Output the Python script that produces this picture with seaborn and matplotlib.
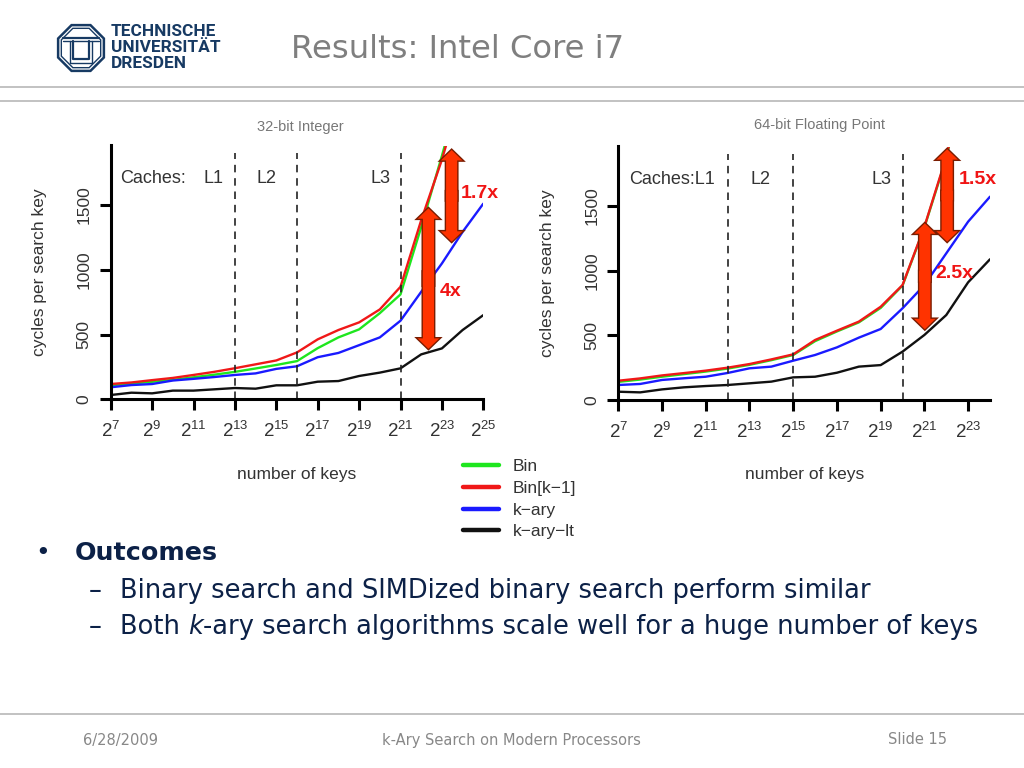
import matplotlib
matplotlib.use("Agg")
import matplotlib.pyplot as plt
from matplotlib.lines import Line2D
from matplotlib.patches import RegularPolygon
import pandas as pd
import seaborn as sns

# ---------------- data ----------------
algorithms = ["Bin", "Bin[k\u22121]", "k\u2212ary", "k\u2212ary\u2212lt"]
colors = ["#1ee61e", "#f01818", "#1a1aff", "#111111"]

exp_int = list(range(7, 26))          # log2(number of keys), 32-bit integer
bin_int = [108, 122, 135, 150, 170, 190, 212, 238, 265, 295, 395, 478, 540, 665, 810, 1330, 1880, 2450, 3000]
bink_int = [118, 130, 148, 165, 188, 212, 240, 270, 300, 362, 463, 535, 594, 694, 869, 1383, 1850, 2400, 2950]
kary_int = [93, 110, 118, 145, 158, 172, 188, 200, 235, 255, 325, 358, 418, 478, 607, 830, 1049, 1293, 1511]
karylt_int = [33, 51, 46, 67, 67, 77, 87, 82, 108, 108, 136, 141, 180, 206, 239, 347, 393, 535, 650]

exp_fp = list(range(7, 25))           # log2(number of keys), 64-bit floating point
bin_fp = [140, 158, 180, 200, 220, 243, 272, 308, 348, 455, 530, 600, 712, 885, 1335, 1870, 2600, 3300]
bink_fp = [149, 167, 190, 208, 227, 250, 278, 314, 353, 464, 536, 606, 721, 889, 1340, 1880, 2600, 3300]
kary_fp = [116, 124, 155, 168, 180, 209, 245, 258, 304, 348, 407, 482, 549, 709, 889, 1134, 1379, 1572]
karylt_fp = [64, 59, 82, 98, 108, 116, 129, 142, 175, 180, 211, 258, 270, 374, 503, 657, 910, 1088]

xticks_int = list(range(7, 26, 2))
xticks_fp = list(range(7, 24, 2))
yticks = [0, 500, 1000, 1500]

cache_int = [13, 16, 21]   # cache boundaries (log2 keys)
cache_fp = [12, 15, 20]

# speed-up arrows: (x, y_low, y_high, label, label_x, label_y)
arrows_int = [(22.35, 390, 1475, "4x", 23.43, 831), (23.47, 1217, 1925, "1.7x", 24.84, 1591)]
arrows_fp = [(21.02, 547, 1366, "2.5x", 22.35, 980), (22.04, 1224, 1939, "1.5x", 23.42, 1701)]


def long_df(x, series):
    rows = []
    for name, vals in zip(algorithms, series):
        for xi, v in zip(x, vals):
            rows.append({"exp": xi, "cycles": v, "algorithm": name})
    return pd.DataFrame(rows)


df_int = long_df(exp_int, [bin_int, bink_int, kary_int, karylt_int])
df_fp = long_df(exp_fp, [bin_fp, bink_fp, kary_fp, karylt_fp])

# ---------------- style ----------------
sns.set_style("white")
plt.rcParams["font.family"] = ["Liberation Sans", "DejaVu Sans"]
plt.rcParams["mathtext.default"] = "regular"

W, H = 1024, 768
fig = plt.figure(figsize=(W / 100, H / 100), dpi=100)
fig.patch.set_facecolor("white")


def fx(px):
    return px / W


def fy(py):
    return 1 - py / H


TXT = "#333333"
ARROW_FILL = "#ff3300"
ARROW_EDGE = "#7a1c00"


def double_arrow(ax, x, y0, y1):
    ym = (y0 + y1) / 2.0
    eps = (y1 - y0) * 0.05
    halves = [((x, ym - eps), (x, y1)), ((x, ym + eps), (x, y0))]
    style = "simple,head_length=7.5,head_width=15.5,tail_width=8"
    for fc, ec, lw, z in ((ARROW_EDGE, ARROW_EDGE, 2.0, 5), (ARROW_FILL, ARROW_FILL, 0.0, 6)):
        for start, end in halves:
            ax.annotate("", xy=end, xytext=start, zorder=z,
                        arrowprops=dict(arrowstyle=style, mutation_scale=1, fc=fc, ec=ec, lw=lw,
                                        shrinkA=0, shrinkB=0, joinstyle="miter"))


ax1 = fig.add_axes([fx(110.7), fy(399.3), 372.6 / W, 253.8 / H])
ax2 = fig.add_axes([fx(618.3), fy(400.0), 371.7 / W, 253.5 / H])

palette = dict(zip(algorithms, colors))

for ax, df, xmax, xt, caches, arrows, labels in (
    (ax1, df_int, 25, xticks_int, cache_int, arrows_int,
     [("Caches:", 7.45, "left"), ("L1", 11.99, "center"), ("L2", 14.52, "center"), ("L3", 20.03, "center")]),
    (ax2, df_fp, 24, xticks_fp, cache_fp, arrows_fp,
     [("Caches:L1", 7.5, "left"), ("L2", 13.49, "center"), ("L3", 19.03, "center")]),
):
    sns.lineplot(data=df, x="exp", y="cycles", hue="algorithm", hue_order=algorithms,
                 palette=palette, estimator=None, lw=1.7, ax=ax, legend=(ax is ax1))
    ax.set_facecolor("none")
    ax.set_xlim(7, xmax)
    ax.set_ylim(0, 1960)
    ax.set_xticks(xt)
    ax.set_xticklabels([f"$2^{{{e}}}$" for e in xt])
    ax.set_yticks(yticks)
    ax.set_yticklabels([str(v) for v in yticks])
    for s in ("top", "right"):
        ax.spines[s].set_visible(False)
    for s in ("left", "bottom"):
        ax.spines[s].set_linewidth(2.2)
        ax.spines[s].set_color("black")
    ax.tick_params(axis="both", length=7.7, width=2.2, color="black", labelcolor=TXT,
                   bottom=True, left=True)
    ax.tick_params(axis="x", labelsize=13.5, pad=8)
    ax.tick_params(axis="y", labelsize=12.5, labelrotation=90, pad=6)
    for lab in ax.get_yticklabels():
        lab.set_va("center")
    ax.set_xlabel("number of keys", fontsize=12.5, color=TXT)
    ax.set_ylabel("cycles per search key", fontsize=12.5, color=TXT)
    ax.xaxis.set_label_coords(0.5, -0.265)
    ax.yaxis.set_label_coords(-0.17, 0.5)

    for c in caches:
        ax.axvline(c, ymin=0, ymax=0.97, color="#222222", lw=1.2, ls=(0, (4.5, 3.5)))
    for text, x, ha in labels:
        ax.text(x, 1705, text, ha=ha, va="center", fontsize=13, color=TXT)

    for x, y0, y1, lab, lx, ly in arrows:
        double_arrow(ax, x, y0, y1)
        ax.text(lx, ly, lab, ha="center", va="center", fontsize=14, fontweight="bold",
                color="#f01414", zorder=7)

# legend between the two charts
sns.move_legend(ax1, "upper left", bbox_to_anchor=(fx(463), fy(459)),
                bbox_transform=fig.transFigure, frameon=False, title=None,
                fontsize=12.5, handlelength=2.1, handletextpad=0.75,
                labelspacing=0.38, borderpad=0, borderaxespad=0)
leg = ax1.get_legend()
for ln in leg.get_lines():
    ln.set_linewidth(3.2)
for t in leg.get_texts():
    t.set_color(TXT)

# chart titles
fig.text(fx(300.5), fy(127), "32-bit Integer", ha="center", va="center", fontsize=10.5, color="#777777")
fig.text(fx(819), fy(125), "64-bit Floating Point", ha="center", va="center", fontsize=10.5, color="#777777")

# ---------------- slide frame ----------------
NAVY = "#0c2147"
GRAY = "#888888"
SLIDE_FONT = ["DejaVu Sans"]

for yline in (87.3, 101.3, 714.0):
    fig.add_artist(Line2D([0, 1], [fy(yline), fy(yline)], transform=fig.transFigure,
                          color="#bdbdbd", lw=1.3))

fig.text(fx(291), fy(50), "Results: Intel Core i7", ha="left", va="center",
         fontsize=23.2, color="#7f7f7f", family=SLIDE_FONT)

# logo
LOGO = "#173a63"
logo = fig.add_axes([fx(55), fy(74), 52 / W, 52 / H])
logo.set_xlim(-1.05, 1.05)
logo.set_ylim(-1.05, 1.05)
logo.set_aspect("equal")
logo.axis("off")
logo.add_patch(RegularPolygon((0, 0), 8, radius=1.0, orientation=0.3927, fill=False, ec=LOGO, lw=1.8))
logo.add_patch(RegularPolygon((0, 0), 8, radius=0.86, orientation=0.3927, fill=False, ec=LOGO, lw=1.0))
logo.plot([-0.72, 0.72], [0.42, 0.42], color=LOGO, lw=1.6)
logo.plot([-0.72, 0.72], [0.28, 0.28], color=LOGO, lw=1.0)
logo.plot([-0.32, -0.32, 0.32, 0.32], [0.28, -0.45, -0.45, 0.28], color=LOGO, lw=1.6)
logo.plot([-0.46, -0.46, 0.46, 0.46], [0.28, -0.6, -0.6, 0.28], color=LOGO, lw=1.0)
for i, word in enumerate(["TECHNISCHE", "UNIVERSIT\u00c4T", "DRESDEN"]):
    fig.text(fx(111), fy(31 + 16.5 * i), word, ha="left", va="center", fontsize=12.4,
             fontweight="bold", color=LOGO, family=["Roboto", "DejaVu Sans"])

# bullets
BODY = 18.5
fig.text(fx(42.5), fy(553), "\u2022", ha="center", va="center", fontsize=18, color=NAVY, family=SLIDE_FONT)
fig.text(fx(75), fy(553), "Outcomes", ha="left", va="center", fontsize=18.3, fontweight="bold",
         color=NAVY, family=SLIDE_FONT)
fig.text(fx(89), fy(591), "\u2013", ha="left", va="center", fontsize=BODY, color=NAVY, family=SLIDE_FONT)
fig.text(fx(120), fy(591), "Binary search and SIMDized binary search perform similar", ha="left",
         va="center", fontsize=BODY, color=NAVY, family=SLIDE_FONT)
fig.text(fx(89), fy(627), "\u2013", ha="left", va="center", fontsize=BODY, color=NAVY, family=SLIDE_FONT)
t1 = fig.text(fx(120), fy(627), "Both ", ha="left", va="center", fontsize=BODY, color=NAVY, family=SLIDE_FONT)
fig.canvas.draw()
r = fig.canvas.get_renderer()
bb = t1.get_window_extent(r)
t2 = fig.text(bb.x1 / W, fy(627), "k", ha="left", va="center", fontsize=BODY, color=NAVY,
              family=SLIDE_FONT, style="italic")
bb2 = t2.get_window_extent(r)
fig.text(bb2.x1 / W, fy(627), "-ary search algorithms scale well for a huge number of keys", ha="left",
         va="center", fontsize=BODY, color=NAVY, family=SLIDE_FONT)

# footer
fig.text(fx(83), fy(740), "6/28/2009", ha="left", va="center", fontsize=10.5, color=GRAY, family=SLIDE_FONT)
fig.text(fx(511), fy(740), "k-Ary Search on Modern Processors", ha="center", va="center", fontsize=10.5,
         color=GRAY, family=SLIDE_FONT)
fig.text(fx(947), fy(740), "Slide 15", ha="right", va="center", fontsize=10.5, color=GRAY, family=SLIDE_FONT)

fig.savefig("out.png", dpi=100, facecolor="white")
